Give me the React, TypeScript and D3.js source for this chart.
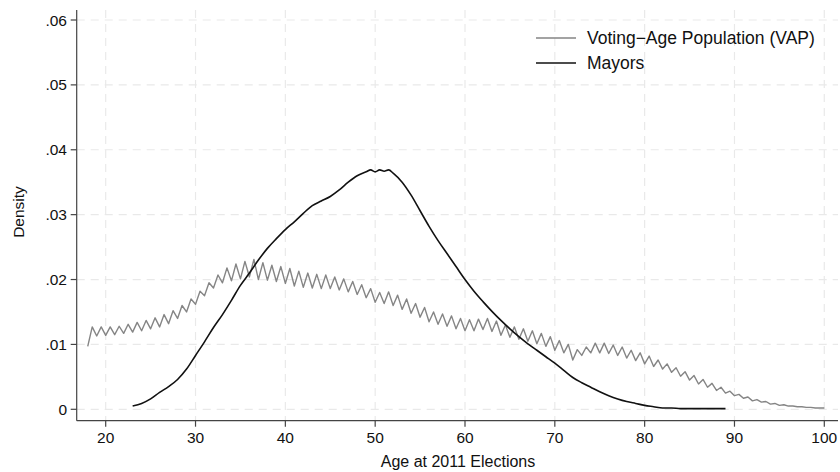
import React from "react";
import * as d3 from "d3";

// VAP density: value at integer age (trough) and at age + 0.5 (peak)
const vapAges = [18,19,20,21,22,23,24,25,26,27,28,29,30,31,32,33,34,35,36,37,38,39,40,41,42,43,44,45,46,47,48,49,50,51,52,53,54,55,56,57,58,59,60,61,62,63,64,65,66,67,68,69,70,71,72,73,74,75,76,77,78,79,80,81,82,83,84,85,86,87,88,89,90,91,92,93,94,95,96,97,98,99,100];
const vapTrough = [.0097,.0113,.0114,.0115,.0117,.0119,.0121,.0124,.0127,.0132,.0140,.0150,.0162,.0175,.0187,.0195,.0198,.0201,.0204,.0200,.0199,.0197,.0194,.0190,.0188,.0187,.0186,.0186,.0184,.0181,.0177,.0172,.0165,.0163,.0160,.0154,.0148,.0142,.0135,.0131,.0128,.0124,.0121,.0121,.0123,.0120,.0114,.0111,.0108,.0105,.0101,.0097,.0091,.0087,.0076,.0083,.0087,.0087,.0086,.0083,.0079,.0075,.0070,.0066,.0062,.0057,.0051,.0045,.0039,.0034,.0029,.0025,.0021,.0017,.0013,.0011,.0008,.0006,.0005,.0004,.0003,.0002,.0002];
const vapPeak = [.0127,.0127,.0127,.0128,.0131,.0134,.0137,.0141,.0146,.0152,.0160,.0170,.0182,.0195,.0207,.0218,.0224,.0228,.0231,.0226,.0222,.0220,.0217,.0213,.0210,.0208,.0207,.0204,.0201,.0197,.0192,.0186,.0180,.0181,.0176,.0170,.0163,.0157,.0150,.0147,.0144,.0140,.0138,.0139,.0140,.0136,.0130,.0127,.0124,.0121,.0117,.0112,.0106,.0100,.0092,.0096,.0102,.0102,.0099,.0096,.0091,.0087,.0082,.0076,.0070,.0064,.0058,.0052,.0046,.0040,.0034,.0028,.0023,.0019,.0015,.0012,.0009,.0007,.0005,.0004,.0003,.0002];

// Mayors density
const mayorAges = [23,24,25,26,27,28,29,30,31,32,33,34,35,36,37,38,39,40,41,42,43,44,45,46,47,48,49,49.5,50,50.5,51,51.5,52,53,54,55,56,57,58,59,60,61,62,63,64,65,66,67,68,69,70,71,72,73,74,75,76,77,78,79,80,81,82,83,84,85,86,87,88,89];
const mayorDensity = [.0005,.0009,.0016,.0026,.0035,.0046,.0062,.0083,.0104,.0126,.0146,.0168,.0191,.0210,.0230,.0248,.0263,.0277,.0289,.0302,.0314,.0321,.0328,.0338,.0350,.0360,.0366,.0369,.0366,.0369,.0367,.0369,.0364,.0350,.0330,.0306,.0282,.0260,.0240,.0220,.0200,.0182,.0166,.0151,.0137,.0124,.0112,.0101,.0091,.0081,.0071,.0060,.0049,.0041,.0034,.0027,.0021,.0016,.0012,.0009,.0006,.0004,.0002,.0002,.0001,.0001,.0001,.0001,.0001,.0001];

const xTicks = [20,30,40,50,60,70,80,90,100];
const yTicks = [0,.01,.02,.03,.04,.05,.06];
const yTickLabels = ["0",".01",".02",".03",".04",".05",".06"];
const legendLabels = ["Voting\u2212Age Population (VAP)", "Mayors"];

export default function App() {
  const x = d3.scaleLinear().domain([20, 100]).range([105.7, 824.3]);
  const y = d3.scaleLinear().domain([0, 0.06]).range([409.3, 20]);
  const left = 76.7, bottom = 420.7, top = 10, right = 838;

  const vapPts: [number, number][] = [];
  vapAges.forEach((a, i) => {
    vapPts.push([a, vapTrough[i]]);
    if (i < vapPeak.length) vapPts.push([a + 0.5, vapPeak[i]]);
  });
  const mayorPts: [number, number][] = mayorAges.map((a, i) => [a, mayorDensity[i]]);

  const line = d3.line<[number, number]>().x(d => x(d[0])).y(d => y(d[1]));
  const smooth = d3.line<[number, number]>().x(d => x(d[0])).y(d => y(d[1])).curve(d3.curveMonotoneX);
  const font = "'Liberation Sans', Arial, Helvetica, sans-serif";
  const grid = "#e9e9e9";

  return (
    <svg width={840} height={472} style={{ position: "absolute", left: 0, top: 0, background: "#fff" }} fontFamily={font}>
      <rect x={0} y={0} width={840} height={472} fill="#fff" />
      {xTicks.map(t => (
        <line key={"gx" + t} x1={x(t)} x2={x(t)} y1={top} y2={bottom} stroke={grid} strokeWidth={1.2} strokeDasharray="8,6" />
      ))}
      {yTicks.map(t => (
        <line key={"gy" + t} x1={left} x2={right} y1={y(t)} y2={y(t)} stroke={grid} strokeWidth={1.2} strokeDasharray="8,6" />
      ))}
      <path d={line(vapPts) || ""} fill="none" stroke="#858585" strokeWidth={1.4} strokeLinejoin="round" />
      <path d={smooth(mayorPts) || ""} fill="none" stroke="#111" strokeWidth={1.6} strokeLinejoin="round" />
      <line x1={left} x2={left} y1={top} y2={bottom} stroke="#444" strokeWidth={1.2} />
      <line x1={left} x2={right} y1={bottom} y2={bottom} stroke="#444" strokeWidth={1.2} />
      {yTicks.map((t, i) => (
        <g key={"yt" + t}>
          <line x1={left - 6} x2={left} y1={y(t)} y2={y(t)} stroke="#444" strokeWidth={1.2} />
          <text x={67} y={y(t)} textAnchor="end" dominantBaseline="central" fontSize={15.5} fill="#111">{yTickLabels[i]}</text>
        </g>
      ))}
      {xTicks.map(t => (
        <g key={"xt" + t}>
          <line x1={x(t)} x2={x(t)} y1={bottom} y2={bottom + 6} stroke="#444" strokeWidth={1.2} />
          <text x={x(t)} y={443} textAnchor="middle" fontSize={15.5} fill="#111">{t}</text>
        </g>
      ))}
      <text x={458} y={467} textAnchor="middle" fontSize={16} fill="#111">Age at 2011 Elections</text>
      <text transform="translate(24,212) rotate(-90)" textAnchor="middle" fontSize={15.5} fill="#111">Density</text>
      <line x1={536} x2={576} y1={38} y2={38} stroke="#858585" strokeWidth={1.4} />
      <text x={587} y={38} dominantBaseline="central" fontSize={17.5} fill="#111">{legendLabels[0]}</text>
      <line x1={536} x2={576} y1={63} y2={63} stroke="#111" strokeWidth={1.6} />
      <text x={587} y={63} dominantBaseline="central" fontSize={17.5} fill="#111">{legendLabels[1]}</text>
    </svg>
  );
}
